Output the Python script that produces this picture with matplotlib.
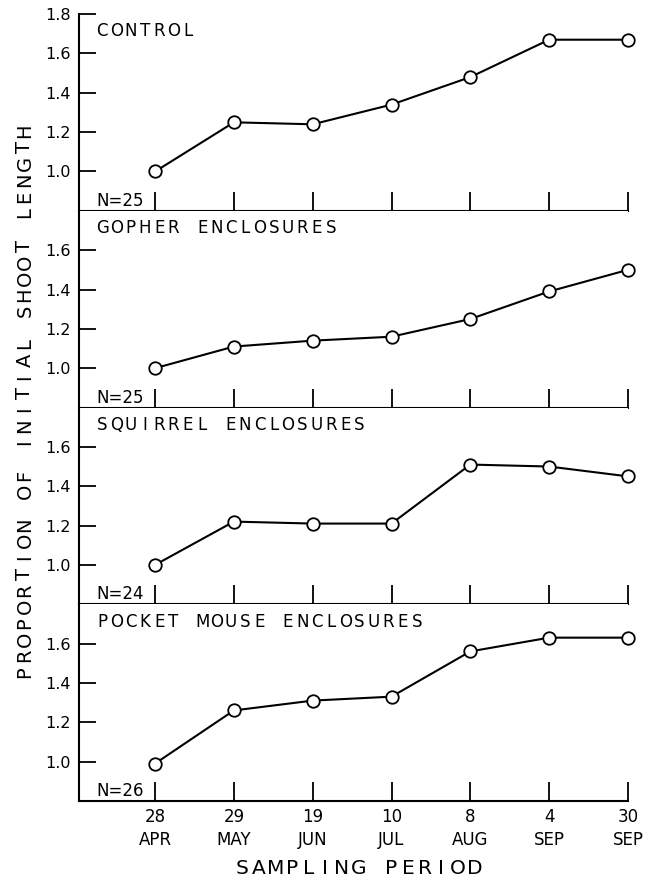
import matplotlib
matplotlib.use('Agg')
import matplotlib.pyplot as plt
from matplotlib.transforms import offset_copy

plt.rcParams['font.family'] = ['DejaVu Sans']

dates = ['28\nAPR', '29\nMAY', '19\nJUN', '10\nJUL', '8\nAUG', '4\nSEP', '30\nSEP']
panel_titles = ['CONTROL', 'GOPHER ENCLOSURES', 'SQUIRREL ENCLOSURES', 'POCKET MOUSE ENCLOSURES']
panel_n = ['N=25', 'N=25', 'N=24', 'N=26']
control = [1.00, 1.25, 1.24, 1.34, 1.48, 1.67, 1.67]
gopher = [1.00, 1.11, 1.14, 1.16, 1.25, 1.39, 1.50]
squirrel = [1.00, 1.22, 1.21, 1.21, 1.51, 1.50, 1.45]
pocket_mouse = [0.99, 1.26, 1.31, 1.33, 1.56, 1.63, 1.63]
series = [control, gopher, squirrel, pocket_mouse]


def spaced(fig, trans, x, y, s, step, size, vertical=False):
    # letters placed one by one, spread out like the hand lettering
    for k, ch in enumerate(s):
        if ch == ' ':
            continue
        if vertical:
            t = offset_copy(trans, fig=fig, x=0, y=k * step, units='dots')
            fig.text(x, y, ch, transform=t, rotation=90, fontsize=size,
                     ha='center', va='center')
        else:
            t = offset_copy(trans, fig=fig, x=k * step, y=0, units='dots')
            fig.text(x, y, ch, transform=t, fontsize=size,
                     ha='center', va='center')


fig = plt.figure(figsize=(6.48, 8.84), dpi=100)
axes = fig.subplots(4, 1, sharex=True)
fig.subplots_adjust(left=0.122, right=0.969, top=0.984, bottom=0.094, hspace=0)

x = list(range(len(dates)))
for i, ax in enumerate(axes):
    ax.plot(x, series[i], color='black', linewidth=1.5, marker='o',
            markersize=9, markerfacecolor='white', markeredgecolor='black',
            markeredgewidth=1.3, zorder=3, clip_on=False)
    ax.set_xlim(-0.965, 6)
    ax.set_ylim(0.8, 1.8)
    if i == 0:
        ax.set_yticks([1.0, 1.2, 1.4, 1.6, 1.8])
    else:
        ax.set_yticks([1.0, 1.2, 1.4, 1.6])
    ax.set_xticks(x)
    ax.spines['top'].set_visible(False)
    ax.spines['right'].set_visible(False)
    ax.spines['left'].set_linewidth(1.5)
    ax.spines['bottom'].set_linewidth(1.5)
    ax.tick_params(axis='y', direction='in', length=12, width=1.3, labelsize=11.5, pad=6)
    ax.tick_params(axis='x', direction='in', length=14, width=1.3, labelsize=12, pad=5)
    spaced(fig, ax.transAxes, 0.042, 0.912, panel_titles[i], 14.3, 12)
    ax.text(0.032, 0.025, panel_n[i], transform=ax.transAxes, fontsize=12,
            ha='left', va='baseline')

axes[-1].set_xticklabels(dates, fontsize=12, linespacing=1.35)
spaced(fig, fig.transFigure, 242 / 648, 1 - 869 / 884, 'SAMPLING PERIOD', 16.6, 14.5)
spaced(fig, fig.transFigure, 25 / 648, 1 - 672 / 884,
       'PROPORTION OF INITIAL SHOOT LENGTH', 16.4, 14, vertical=True)

fig.savefig('out.png', dpi=100)
